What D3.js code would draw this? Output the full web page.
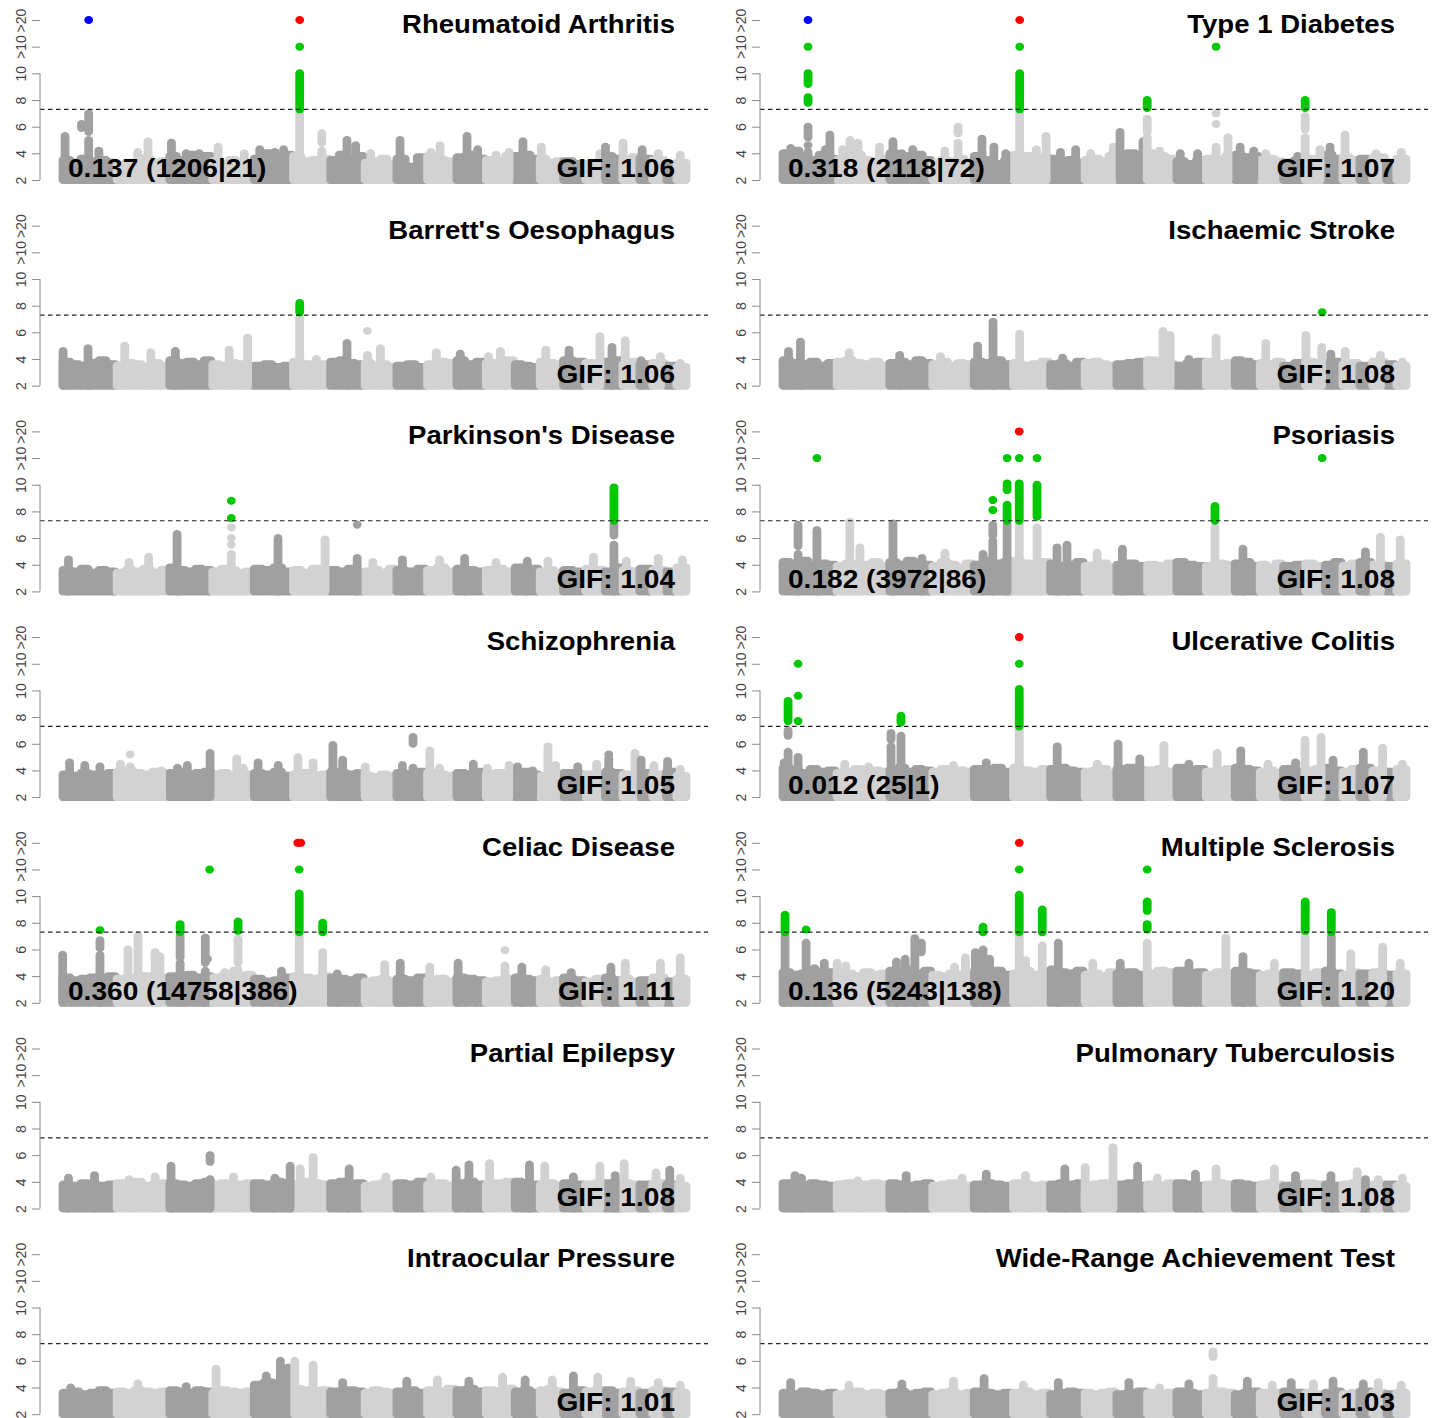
<!DOCTYPE html>
<html>
<head>
<meta charset="utf-8">
<script src="https://cdn.jsdelivr.net/npm/d3@7"></script>
<style>
  html, body { margin: 0; padding: 0; background: #ffffff; }
  svg { display: block; }
</style>
</head>
<body>
<svg id="chart" width="1438" height="1418"></svg>
<script>
// Autosome lengths (Mb, hg19), chromosomes 1..22
const chromLengths = [249.3, 243.2, 198.0, 191.2, 180.9, 171.1, 159.1, 146.4, 141.2, 135.5, 135.0,
                      133.9, 115.2, 107.3, 102.5, 90.4, 81.2, 78.1, 59.1, 63.0, 48.1, 51.3];
// Number of background segments per chromosome
const segmentsPerChrom = [6, 6, 5, 5, 4, 4, 4, 4, 3, 3, 3, 3, 3, 3, 2, 2, 2, 2, 1, 1, 1, 1];

// y-axis ticks (">10" and ">20" are the capped bins)
const yTickValues = [2, 4, 6, 8, 10, 12, 14];
const yTickLabels = ["2", "4", "6", "8", "10", ">10", ">20"];
const gwsThreshold = 7.3;

const panelTitles = ["Rheumatoid Arthritis", "Type 1 Diabetes", "Barrett's Oesophagus", "Ischaemic Stroke",
  "Parkinson's Disease", "Psoriasis", "Schizophrenia", "Ulcerative Colitis", "Celiac Disease",
  "Multiple Sclerosis", "Partial Epilepsy", "Pulmonary Tuberculosis", "Intraocular Pressure",
  "Wide-Range Achievement Test"];
const gifLabels = ["GIF: 1.06", "GIF: 1.07", "GIF: 1.06", "GIF: 1.08", "GIF: 1.04", "GIF: 1.08", "GIF: 1.05",
  "GIF: 1.07", "GIF: 1.11", "GIF: 1.20", "GIF: 1.08", "GIF: 1.08", "GIF: 1.01", "GIF: 1.03"];
const overlapLabels = ["0.137 (1206|21)", "0.318 (2118|72)", "", "", "", "0.182 (3972|86)", "",
  "0.012 (25|1)", "0.360 (14758|386)", "0.136 (5243|138)", "", "", "", ""];

// Background -log10(p) envelope, one value per segment (chromosome order)
const raBase = [3.5,3.3,3.6,3.4,3.5,3.3, 3.1,3.3,3.2,3.6,3.3,3.4, 3.8,3.5,3.9,3.6,3.8, 3.4,3.2,3.5,3.3,3.2,
  3.6,4.0,3.7,3.9, 3.8,3.4,3.5,3.6, 3.5,3.9,3.6,3.8, 3.3,3.4,3.6,3.2, 3.6,3.0,3.7, 3.8,3.5,3.4, 3.7,3.9,3.6,
  3.5,3.4,3.8, 3.8,3.9,3.6, 3.6,3.3,3.4, 3.4,3.2, 3.2,3.3, 3.8,3.6, 3.4,3.7, 3.6, 3.5, 3.2, 3.3];
const t1dBase = [4.0,4.2,3.8,3.5,3.9,3.6, 3.5,3.8,3.9,3.5,3.4,3.6, 4.0,3.7,3.8,3.9,3.5, 3.3,3.5,3.4,3.6,3.3,
  3.8,3.5,3.2,3.4, 3.9,3.8,3.6,3.7, 3.6,3.4,3.5,3.3, 3.5,3.6,3.4,3.8, 3.9,4.0,3.6, 4.0,3.8,3.6, 3.4,3.2,3.5,
  3.6,3.5,3.8, 3.9,3.7,3.8, 3.5,3.6,3.4, 3.3,3.5, 3.6,3.5, 3.9,3.6, 3.7,3.5, 3.6, 3.7, 3.3, 3.6];
const beBase = [3.8,3.6,3.5,3.7,3.9,3.6, 3.5,3.7,3.6,3.4,3.7,3.5, 3.9,3.7,3.8,3.6,3.9, 3.6,3.5,3.7,3.6,3.4,
  3.5,3.6,3.4,3.5, 3.8,3.6,3.5,3.6, 3.8,3.9,3.7,3.6, 3.7,3.5,3.6,3.4, 3.5,3.6,3.4, 3.6,3.8,3.7, 3.9,3.6,3.8,
  3.7,3.6,3.9, 3.6,3.5,3.4, 3.8,3.7,3.6, 3.9,3.8, 3.7,3.6, 3.8,3.9, 3.6,3.8, 3.6, 3.7, 3.5, 3.4];
const isBase = [3.9,3.7,3.6,3.8,3.5,3.7, 3.8,3.9,3.7,3.6,3.8,3.5, 3.7,3.8,3.6,3.9,3.7, 3.6,3.8,3.5,3.7,3.6,
  3.8,3.7,3.9,3.6, 3.7,3.5,3.6,3.8, 3.6,3.7,3.5,3.8, 3.7,3.8,3.6,3.5, 3.6,3.7,3.8, 3.9,3.7,3.6, 3.5,3.7,3.8,
  3.8,3.6,3.7, 3.9,3.8,3.6, 3.7,3.6,3.8, 3.5,3.7, 3.8,3.6, 3.7,3.8, 3.6,3.7, 3.5, 3.8, 3.6, 3.5];
const pdBase = [3.6,3.5,3.7,3.4,3.6,3.5, 3.4,3.6,3.5,3.7,3.4,3.6, 3.8,3.6,3.5,3.7,3.6, 3.5,3.7,3.6,3.4,3.5,
  3.7,3.6,3.8,3.5, 3.6,3.4,3.7,3.5, 3.6,3.5,3.7,3.4, 3.5,3.6,3.4,3.7, 3.6,3.5,3.7, 3.6,3.8,3.5, 3.7,3.6,3.5,
  3.6,3.7,3.5, 3.8,3.6,3.7, 3.5,3.6,3.4, 3.6,3.5, 3.7,3.6, 3.5,3.8, 3.6,3.5, 3.7, 3.6, 3.5, 3.8];
const psBase = [4.2,4.0,4.3,3.9,4.1,4.0, 3.9,4.1,3.8,4.0,4.2,3.9, 4.2,4.0,4.3,4.1,4.0, 3.9,4.2,4.0,3.8,4.1,
  4.0,4.3,4.1,4.2, 4.3,4.1,4.0,4.2, 4.1,3.9,4.0,4.2, 3.9,4.0,4.1,3.8, 4.0,4.1,3.9, 4.0,3.9,4.1, 4.2,4.0,3.9,
  3.9,4.1,4.0, 4.1,4.2,3.9, 4.0,3.8,4.1, 3.9,4.0, 4.1,3.9, 4.0,4.2, 3.9,4.1, 4.2, 4.0, 3.9, 4.1];
const scBase = [3.7,3.6,3.8,3.7,3.6,3.8, 3.9,4.0,3.8,3.7,3.9,3.8, 3.8,3.9,3.7,3.8,3.9, 3.7,3.8,3.6,3.9,3.7,
  3.8,3.7,3.9,3.6, 3.7,3.8,3.6,3.7, 3.9,3.8,3.7,3.8, 3.6,3.5,3.7,3.6, 3.8,3.7,3.9, 3.8,3.7,3.6, 3.8,3.7,3.9,
  3.7,3.8,3.6, 3.8,3.9,3.7, 3.6,3.8,3.7, 3.8,3.7, 3.7,3.6, 3.9,3.8, 3.7,3.6, 3.8, 3.7, 3.9, 3.6];
const ucBase = [4.2,4.0,3.8,4.1,3.9,4.0, 3.8,3.9,4.1,3.8,4.0,3.9, 4.0,4.2,3.9,4.1,4.0, 3.9,4.1,3.8,4.0,3.9,
  4.1,4.0,4.2,3.9, 4.2,4.0,3.9,4.1, 4.1,4.2,4.0,3.9, 3.9,4.0,4.1,3.8, 4.1,4.2,4.0, 4.0,4.1,3.9, 4.2,4.0,4.1,
  3.9,4.0,4.1, 4.2,4.1,4.0, 3.9,4.0,3.8, 4.1,3.9, 4.0,4.1, 4.2,4.0, 3.9,4.1, 4.2, 4.0, 3.9, 4.1];
const ceBase = [3.9,3.7,3.8,3.9,3.7,4.0, 3.8,3.9,3.7,4.0,3.8,3.9, 4.0,3.8,4.1,3.9,4.0, 3.9,4.0,3.8,3.9,4.1,
  3.8,3.6,3.7,3.9, 4.0,3.9,3.8,4.0, 3.9,3.8,3.7,3.9, 3.6,3.7,3.8,3.6, 3.8,3.7,3.9, 3.7,3.8,3.6, 3.9,3.8,3.7,
  3.6,3.7,3.8, 3.9,3.8,3.7, 3.8,3.6,3.7, 3.9,3.7, 3.6,3.8, 3.9,3.7, 3.8,3.6, 3.7, 3.9, 3.6, 3.8];
const msBase = [4.3,4.1,4.2,4.4,4.0,4.3, 4.1,4.2,4.0,4.3,4.1,4.2, 4.4,4.3,4.5,4.2,4.4, 4.1,4.0,4.2,4.1,4.3,
  4.3,4.2,4.4,4.1, 4.2,4.4,4.1,4.3, 4.5,4.3,4.2,4.4, 4.1,4.2,4.0,4.3, 4.2,4.3,4.1, 4.2,4.4,4.3, 4.4,4.2,4.3,
  4.1,4.3,4.2, 4.4,4.3,4.2, 4.1,4.2,4.0, 4.3,4.2, 4.1,4.3, 4.4,4.2, 4.1,4.3, 4.2, 4.3, 4.1, 4.2];
const peBase = [3.8,3.7,3.9,3.8,3.7,3.8, 3.9,3.8,4.0,3.7,3.8,3.9, 3.9,3.8,3.7,3.9,4.0, 3.8,3.9,3.7,3.8,3.9,
  3.9,3.8,4.0,3.9, 3.8,4.0,3.9,3.8, 3.9,4.0,3.8,3.9, 3.7,3.8,3.9,3.8, 3.9,3.8,4.0, 3.8,3.9,3.7, 3.9,4.0,3.8,
  3.8,3.9,4.0, 4.0,3.9,3.8, 3.8,3.9,3.7, 3.9,3.8, 3.8,3.9, 3.9,3.8, 3.9,3.8, 3.8, 3.9, 3.8, 3.7];
const tbBase = [3.9,3.8,3.7,3.9,3.8,3.7, 3.8,3.9,3.7,3.8,3.9,3.8, 3.9,3.8,3.7,3.8,3.9, 3.7,3.8,3.9,3.8,3.7,
  3.8,3.9,3.8,3.7, 3.9,3.8,3.7,3.8, 3.8,3.9,3.8,3.9, 3.7,3.8,3.9,3.8, 3.8,3.9,3.7, 3.8,3.7,3.9, 3.9,3.8,3.7,
  3.8,3.9,3.8, 3.9,3.8,3.7, 3.8,3.9,3.8, 3.7,3.8, 3.9,3.8, 3.8,3.7, 3.8,3.9, 3.7, 3.8, 3.8, 3.7];
const iopBase = [3.6,3.7,3.5,3.6,3.8,3.6, 3.7,3.6,3.8,3.7,3.6,3.7, 3.8,3.7,3.6,3.8,3.7, 3.6,3.8,3.7,3.6,3.7,
  4.2,4.4,4.3,4.1, 3.9,3.8,3.7,3.8, 3.7,3.6,3.8,3.7, 3.6,3.8,3.7,3.6, 3.7,3.8,3.6, 3.8,3.7,3.9, 3.8,3.9,3.7,
  3.8,3.7,3.9, 3.7,3.8,3.6, 3.8,3.9,3.7, 3.6,3.8, 3.7,3.8, 3.8,3.6, 3.7,3.8, 3.6, 3.8, 3.7, 3.6];
const wratBase = [3.6,3.5,3.7,3.6,3.5,3.6, 3.5,3.6,3.7,3.5,3.6,3.5, 3.6,3.7,3.5,3.6,3.7, 3.5,3.6,3.7,3.5,3.6,
  3.7,3.6,3.5,3.6, 3.6,3.7,3.5,3.6, 3.5,3.6,3.7,3.6, 3.6,3.5,3.6,3.7, 3.5,3.6,3.7, 3.6,3.5,3.6, 3.7,3.6,3.5,
  3.6,3.7,3.6, 3.5,3.6,3.7, 3.6,3.5,3.6, 3.7,3.6, 3.6,3.5, 3.6,3.7, 3.5,3.6, 3.7, 3.6, 3.5, 3.6];

// Loci: [chromosome, position (Mb), lowest -log10(p), highest -log10(p)] ; 12 = ">10", 14 = ">20"
const raLoci = [[1,14,2,5.3],[1,90,5.9,6.2],[1,123,2,5.0],[1,123,5.6,7.0],[1,170,2,4.2],[2,100,2,4.1],[2,147,2,4.9],
  [3,12,2,4.8],[3,80,2,4.0],[3,140,2,4.0],[4,29,2,4.5],[4,150,2,4.0],[5,30,2,4.3],[5,100,2,4.1],[5,140,2,4.3],
  [6,33,2,7.0],[6,33,7.3,10],[6,33,12,12],[6,33,14,14],[6,135,2,4.2],[6,135,4.8,5.5],[7,80,2,5.0],[7,120,2,4.6],
  [8,30,2,4.0],[9,19,2,5.0],[10,20,2,4.1],[10,62,2,4.6],[11,51,2,5.3],[11,100,2,4.3],[12,50,2,3.9],[12,110,2,4.1],
  [13,40,2,4.9],[14,10,2,4.5],[16,70,2,4.0],[17,5,2,4.5],[18,5,2,4.8],[19,15,2,4.3],[20,30,2,4.0],[22,20,2,3.9]];
const t1dLoci = [[1,40,2,4.4],[1,120,2,4.1],[1,120,4.6,4.6],[1,120,5.2,6.0],[1,120,7.8,8.2],[1,120,9.2,10],[1,120,12,12],
  [1,200,2,4.3],[1,221,2,5.4],[2,30,2,4.3],[2,64,2,5.0],[2,101,2,4.8],[2,200,2,4.5],[3,19,2,4.9],[3,60,2,4.0],[3,110,2,4.3],
  [4,60,2,4.2],[4,121,2,4.8],[4,121,5.5,6.0],[5,40,2,5.1],[5,95,2,4.5],[5,150,2,4.0],
  [6,33,2,7.0],[6,33,7.3,10],[6,33,12,12],[6,33,14,14],[6,110,2,4.3],[6,155,2,5.3],[7,50,2,4.1],[7,120,2,4.3],
  [8,30,2,4.0],[8,135,2,4.5],[9,19,2,5.6],[9,125,2,4.9],[10,3,2,5.2],[10,3,5.6,6.6],[10,3,7.4,8.0],[10,60,2,4.2],
  [11,20,2,4.0],[11,100,2,4.0],[12,50,2,4.5],[12,50,6.2,6.2],[12,50,7.0,7.0],[12,50,12,12],[12,105,2,5.2],
  [13,27,2,4.5],[13,90,2,4.2],[14,30,2,4.0],[15,70,2,3.8],[16,2,2,5.2],[16,2,5.8,6.8],[16,2,7.4,8.0],[16,70,2,4.3],
  [17,26,2,4.5],[18,14,2,5.4],[20,20,2,4.0],[22,25,2,4.1]];
const beLoci = [[1,5,2,4.6],[1,120,2,4.8],[2,40,2,5.0],[2,160,2,4.5],[3,30,2,4.6],[4,80,2,4.7],[4,165,2,5.6],
  [6,33,2,7.1],[6,33,7.5,8.2],[6,110,2,4.0],[7,80,2,5.2],[8,15,6.1,6.1],[8,15,2,4.3],[8,75,2,4.8],[10,45,2,4.5],
  [11,20,2,4.4],[12,15,2,4.2],[12,70,2,4.6],[14,30,2,4.7],[15,30,2,4.7],[16,70,2,5.7],[17,35,2,4.9],[18,15,2,5.4],
  [19,10,2,3.9],[20,40,2,4.2],[22,20,2,3.7]];
const isLoci = [[1,30,2,4.6],[1,85,2,5.3],[2,60,2,4.5],[3,50,2,4.3],[4,40,2,4.2],[5,20,2,5.0],[5,91,2,6.8],
  [6,33,2,5.9],[7,60,2,4.1],[8,60,2,3.8],[10,76,2,6.1],[10,109,2,5.8],[11,60,2,4.0],[12,50,2,5.6],[14,30,2,5.2],
  [16,5,2,5.8],[16,78,2,4.9],[16,80,7.5,7.5],[17,30,2,4.4],[18,15,2,4.6],[20,40,2,4.3],[22,30,2,3.8]];
const pdLoci = [[1,30,2,4.4],[2,60,2,4.2],[2,150,2,4.6],[3,38,2,6.3],[4,90,2,4.8],[4,90,5.5,5.5],[4,90,6.0,6.0],
  [4,90,6.8,6.8],[4,90,7.5,7.5],[4,90,8.8,8.8],[5,114,2,6.0],[6,150,2,5.9],[7,127,7.0,7.0],[7,127,2,4.5],
  [8,40,2,4.2],[9,30,2,4.4],[10,60,2,4.4],[11,40,2,4.5],[12,50,2,4.2],[13,60,2,4.3],[14,40,2,4.3],[16,40,2,4.6],
  [17,44,2,5.5],[17,44,6.2,7.0],[17,44,7.3,9.8],[18,20,2,4.3],[20,30,2,4.5],[22,30,2,4.4]];
const psLoci = [[1,74,2,4.8],[1,74,5.4,7.0],[1,161,2,6.6],[1,161,12,12],[2,63,2,7.2],[2,110,2,5.3],[3,19,2,7.1],
  [3,153,2,4.5],[4,61,2,4.9],[5,45,2,4.8],[5,90,2,5.8],[5,90,6.2,7.0],[5,90,8.1,8.1],[5,90,8.85,8.85],
  [5,156,2,7.0],[5,156,7.3,8.5],[5,156,9.6,10.1],[5,156,12,12],[6,31,2,7.1],[6,31,7.3,10.1],[6,31,12,12],[6,31,14,14],
  [6,113,2,6.8],[6,113,7.6,10],[6,113,12,12],[7,34,2,5.3],[7,80,2,5.5],[8,60,2,4.9],[9,30,2,5.2],
  [12,45,2,6.8],[12,45,7.3,8.4],[13,40,2,5.2],[16,80,12,12],[19,30,2,5.0],[20,40,2,6.1],[22,20,2,5.9]];
const scLoci = [[1,35,2,4.6],[1,105,2,4.4],[1,175,2,4.3],[2,20,2,4.5],[2,65,5.2,5.2],[2,65,2,4.3],[2,210,2,4.0],
  [3,40,2,4.2],[3,85,2,4.4],[3,190,2,5.3],[4,115,2,4.9],[4,145,2,4.2],[5,22,2,4.6],[5,115,2,4.4],[6,25,2,5.0],
  [6,95,2,4.6],[7,15,2,5.9],[7,60,2,4.8],[8,5,2,4.3],[9,30,2,4.4],[9,79,6.0,6.5],[9,79,2,4.2],[10,15,2,5.5],
  [10,60,2,4.2],[11,80,2,4.5],[12,10,2,4.2],[12,110,2,4.4],[13,15,2,4.3],[13,85,2,4.0],[14,40,2,5.8],[14,75,2,4.4],
  [15,70,2,4.3],[16,55,2,4.5],[17,20,2,4.9],[17,20,5.2,5.2],[18,60,2,5.3],[19,10,2,4.8],[20,10,2,4.4],[21,10,2,4.7],
  [22,20,2,4.1]];
const ucLoci = [[1,10,2,4.6],[1,28,2,5.4],[1,28,6.6,7.0],[1,28,7.7,9.2],[1,74,2,5.0],[1,74,7.7,7.7],[1,74,9.6,9.6],
  [1,74,12,12],[2,40,2,4.5],[2,150,2,4.3],[3,10,2,5.8],[3,10,6.3,6.8],[3,56,2,6.6],[3,56,7.6,8.1],[4,100,2,4.4],
  [5,60,2,4.6],[6,31,2,7.1],[6,31,7.3,10.1],[6,31,12,12],[6,31,14,14],[7,35,2,5.8],[8,60,2,4.5],[9,10,2,6.0],
  [9,110,2,4.9],[10,80,2,5.9],[11,60,2,4.5],[12,55,2,5.3],[13,30,2,5.5],[14,40,2,4.5],[15,60,2,4.6],[16,1,2,6.3],
  [16,75,2,6.5],[17,40,2,4.8],[19,20,2,5.4],[20,50,2,5.7],[22,30,2,4.5]];
const ceLoci = [[1,3,2,5.6],[1,175,2,5.6],[1,175,6.1,6.7],[1,175,7.45,7.45],[2,55,2,6.0],[2,101,2,7.05],[2,180,2,5.8],
  [2,202,2,5.5],[3,52,2,5.0],[3,52,5.4,7.0],[3,52,7.3,7.9],[3,168,5.0,6.9],[3,168,2,4.4],[3,178,5.3,5.3],[3,188,12,12],
  [4,60,2,4.3],[4,100,2,4.4],[4,121,2,4.5],[4,121,5.0,6.8],[4,121,7.4,8.1],[5,130,2,4.4],
  [6,31,2,7.1],[6,31,7.3,10.2],[6,31,12,12],[6,24,14,14],[6,38,14,14],[6,139,2,5.8],[6,139,7.3,8.0],
  [7,35,2,4.2],[8,95,2,4.9],[9,20,2,5.0],[10,15,2,4.7],[11,10,2,5.0],[12,91,2,4.8],[12,91,5.95,5.95],[13,35,2,4.7],
  [14,30,2,4.5],[15,40,2,4.3],[17,30,2,4.7],[18,15,2,5.0],[20,40,2,5.0],[22,20,2,5.4]];
const msLoci = [[1,14,2,7.0],[1,14,7.3,8.6],[1,111,2,6.5],[1,111,7.5,7.5],[1,150,2,4.6],[1,195,2,5.0],[2,5,2,5.0],
  [2,45,2,4.8],[2,160,2,4.3],[3,35,2,5.1],[3,75,2,5.3],[3,120,2,6.85],[3,150,5.8,6.5],[4,105,2,4.7],[4,155,2,5.4],
  [5,10,2,5.8],[5,45,2,6.0],[5,45,7.3,7.7],[5,75,2,5.3],[6,31,2,7.1],[6,31,7.3,10.1],[6,31,12,12],[6,31,14,14],
  [6,60,2,5.2],[6,137,2,6.3],[6,137,7.3,9.0],[7,40,2,6.5],[8,40,2,5.0],[9,20,2,5.0],[10,3,2,6.5],[10,3,7.5,7.9],
  [10,3,8.9,9.6],[10,3,12,12],[11,60,2,5.0],[12,95,2,6.9],[13,40,2,5.5],[14,70,2,5.0],[16,2,2,7.0],[16,2,7.4,9.6],
  [17,32,2,7.0],[17,32,7.3,8.8],[18,40,2,5.7],[20,50,2,6.2],[22,20,2,5.0]];
const peLoci = [[1,30,2,4.3],[1,150,2,4.5],[2,60,2,4.2],[2,180,2,4.4],[3,10,2,5.2],[3,190,5.5,6.0],[3,190,2,4.2],
  [4,100,2,4.4],[5,100,2,4.3],[5,170,2,5.2],[6,35,2,5.0],[6,95,2,5.85],[7,90,2,5.0],[8,100,2,4.4],[10,20,2,4.4],
  [11,1,2,4.9],[11,60,2,5.3],[12,20,2,5.4],[13,70,2,5.3],[14,25,2,5.2],[15,50,2,4.4],[16,70,2,5.2],[17,50,2,4.5],
  [18,10,2,5.4],[20,20,2,4.7],[21,20,2,4.9],[22,20,2,4.3]];
const tbLoci = [[1,60,2,4.5],[1,90,2,4.3],[2,100,2,4.1],[3,80,2,4.5],[4,140,2,4.3],[5,60,2,4.6],[6,60,2,4.5],
  [7,70,2,5.0],[8,5,2,5.1],[8,133,2,6.6],[9,100,2,5.2],[10,50,2,4.3],[11,90,2,4.6],[12,50,2,5.0],[14,70,2,5.0],
  [15,60,2,4.5],[17,30,2,4.5],[18,70,2,4.8],[19,30,2,4.2],[20,30,2,4.2],[22,30,2,4.3]];
const iopLoci = [[1,40,2,4.0],[2,100,2,4.3],[3,80,2,4.1],[4,20,2,5.4],[5,60,2,4.9],[5,125,2,6.0],[5,160,2,5.5],
  [6,10,2,6.0],[6,95,2,5.7],[7,60,2,4.4],[9,50,2,4.5],[10,50,2,4.6],[11,60,2,4.5],[12,80,2,4.8],[13,50,2,4.6],
  [14,60,2,4.6],[15,50,2,4.9],[16,60,2,4.8],[18,40,2,4.5],[20,30,2,4.4],[22,20,2,4.2]];
const wratLoci = [[1,40,2,4.4],[2,60,2,4.2],[3,60,2,4.3],[4,100,2,4.5],[5,50,2,4.7],[6,50,2,4.2],[7,40,2,4.4],
  [9,60,2,4.4],[10,60,2,4.0],[11,60,2,4.3],[12,36,6.3,6.7],[12,36,2,4.7],[13,60,2,4.5],[14,60,2,4.2],[15,40,2,4.4],
  [16,40,2,4.3],[17,40,2,4.5],[19,20,2,4.3],[20,30,2,4.4],[22,25,2,4.2]];

// ">20" hits of the first locus set, shown apart from the rest: [chromosome, position (Mb)]
const raFlagged = [[1,123]];
const t1dFlagged = [[1,120]];

const baseSets = [raBase, t1dBase, beBase, isBase, pdBase, psBase, scBase, ucBase, ceBase, msBase, peBase, tbBase, iopBase, wratBase];
const lociSets = [raLoci, t1dLoci, beLoci, isLoci, pdLoci, psLoci, scLoci, ucLoci, ceLoci, msLoci, peLoci, tbLoci, iopLoci, wratLoci];
const flaggedSets = [raFlagged, t1dFlagged, [], [], [], [], [], [], [], [], [], [], [], []];

// ---- drawing ----
const svg = d3.select("#chart");
const colours = { dark: "#a0a0a0", light: "#d2d2d2", sig: "#00c800", top: "#ff0000", flagged: "#0000ff" };
const dotRx = 4.4, dotRy = 4.0;           // points are slightly wider than tall
const textStretch = 1.06;                   // horizontal stretch of the labels
const chromStart = chromLengths.map((_, i) => d3.sum(chromLengths.slice(0, i)));
const genomeLength = d3.sum(chromLengths);
const greyOf = c => (c % 2 === 1 ? colours.dark : colours.light);   // chromosome number, 1-based
const fontFamily = "'Liberation Sans', Arial, Helvetica, sans-serif";

const colX = [0, 720];
const rowStep = 205.7;

function label(g, tx, ty, anchor, size, text) {
  g.append("text")
    .attr("transform", `translate(${tx},${ty}) scale(${textStretch},1)`)
    .attr("text-anchor", anchor)
    .style("font-family", fontFamily).style("font-weight", "bold").style("font-size", size + "px")
    .attr("fill", "#000")
    .text(text);
}

panelTitles.forEach((title, i) => {
  const col = i % 2, row = Math.floor(i / 2);
  const ox = colX[col], oy = row * rowStep;
  const x = d3.scaleLinear().domain([0, genomeLength]).range([62 + ox, 687 + ox]);
  const y = d3.scaleLinear().domain([2, 14]).range([180 + oy, 20 + oy]);
  const g = svg.append("g").attr("class", "panel");

  // background envelope per chromosome segment
  const segs = [];
  let k = 0;
  chromLengths.forEach((len, c) => {
    const n = segmentsPerChrom[c];
    for (let s = 0; s < n; s++) {
      segs.push({ c: c + 1, a: chromStart[c] + s * len / n, b: chromStart[c] + (s + 1) * len / n, v: baseSets[i][k++] });
    }
  });
  g.append("g").selectAll("rect").data(segs).join("rect")
    .attr("x", d => x(d.a) - dotRx + 1)
    .attr("width", d => x(d.b) - x(d.a) + 2 * dotRx - 2)
    .attr("y", d => y(d.v) - dotRy)
    .attr("height", d => y(2) - y(d.v) + 2 * dotRy)
    .attr("rx", dotRx).attr("ry", dotRy)
    .attr("fill", d => greyOf(d.c));

  // loci columns
  const loci = lociSets[i].map(([c, mb, lo, hi]) => ({ c, pos: chromStart[c - 1] + mb, lo, hi }));
  const colourOf = d => d.lo >= 13 ? colours.top : (d.lo >= gwsThreshold ? colours.sig : greyOf(d.c));
  const order = d => d.lo >= 13 ? 2 : (d.lo >= gwsThreshold ? 1 : 0);
  loci.sort((a, b) => order(a) - order(b));
  g.append("g").selectAll("rect").data(loci).join("rect")
    .attr("x", d => x(d.pos) - dotRx)
    .attr("width", 2 * dotRx)
    .attr("y", d => y(d.hi) - dotRy)
    .attr("height", d => y(d.lo) - y(d.hi) + 2 * dotRy)
    .attr("rx", dotRx).attr("ry", dotRy)
    .attr("fill", colourOf);

  g.append("g").selectAll("ellipse").data(flaggedSets[i]).join("ellipse")
    .attr("cx", d => x(chromStart[d[0] - 1] + d[1]))
    .attr("cy", y(14))
    .attr("rx", dotRx).attr("ry", dotRy)
    .attr("fill", colours.flagged);

  // genome-wide significance line
  g.append("line")
    .attr("x1", 40 + ox).attr("x2", 708 + ox)
    .attr("y1", y(gwsThreshold)).attr("y2", y(gwsThreshold))
    .attr("stroke", "#222").attr("stroke-width", 1.2).attr("stroke-dasharray", "4.5,3.5");

  // y axis
  const axis = d3.axisLeft(y).tickValues(yTickValues).tickFormat((d, j) => yTickLabels[j]).tickSize(8).tickSizeOuter(0);
  const ag = g.append("g").attr("transform", `translate(${40 + ox},0)`).call(axis);
  ag.select(".domain").remove();
  ag.append("line").attr("x1", 0).attr("x2", 0).attr("y1", y(2)).attr("y2", y(10))
    .attr("stroke", "#8a8a8a").attr("stroke-width", 1);
  ag.selectAll(".tick line").attr("stroke", "#8a8a8a");
  ag.selectAll(".tick text")
    .attr("x", null).attr("dy", null)
    .attr("transform", "translate(-14,0) rotate(-90)")
    .attr("text-anchor", "middle")
    .attr("fill", "#444")
    .style("font-family", fontFamily).style("font-size", "14px");

  // labels
  label(g, 675 + ox, 33 + oy, "end", 26, title);
  label(g, 675 + ox, 177 + oy, "end", 26.5, gifLabels[i]);
  if (overlapLabels[i]) label(g, 68 + ox, 177 + oy, "start", 26.5, overlapLabels[i]);
});
</script>
</body>
</html>
